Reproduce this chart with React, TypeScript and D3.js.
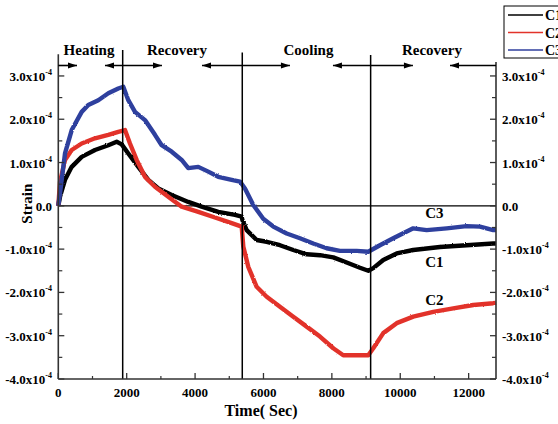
import React, { useEffect, useRef } from 'react';
import * as d3 from 'd3';

// series values: [time (s), strain (x1e-4)]
const c1Points: [number, number][] = [
  [0, 0], [50, 0.21], [196, 0.6], [392, 0.9], [684, 1.13], [1073, 1.29], [1462, 1.4],
  [1708, 1.48], [1854, 1.42], [2047, 1.21], [2339, 0.9], [2632, 0.6], [2924, 0.4],
  [3316, 0.25], [3801, 0.09], [4193, -0.02], [4678, -0.14], [5167, -0.21], [5363, -0.25],
  [5385, -0.33], [5509, -0.56], [5801, -0.79], [6094, -0.83], [6482, -0.91], [6872, -1.02],
  [7263, -1.12], [7652, -1.14], [8041, -1.19], [8433, -1.31], [8822, -1.43], [9065, -1.5],
  [9211, -1.44], [9503, -1.25], [9895, -1.1], [10380, -1.02], [11160, -0.95], [11941, -0.91],
  [12719, -0.87], [12800, -0.87],
];
const c2Points: [number, number][] = [
  [0, 0], [50, 0.55], [196, 1.06], [392, 1.29], [684, 1.44], [1073, 1.56], [1462, 1.64],
  [1754, 1.71], [1950, 1.75], [2096, 1.44], [2292, 1.06], [2535, 0.67], [2827, 0.44],
  [3216, 0.21], [3608, -0.02], [4094, -0.14], [4582, -0.27], [5070, -0.4], [5363, -0.48],
  [5410, -0.94], [5556, -1.41], [5801, -1.87], [6094, -2.1], [6482, -2.33], [6872, -2.56],
  [7263, -2.79], [7652, -3.02], [8041, -3.29], [8333, -3.45], [8725, -3.45], [9065, -3.45],
  [9211, -3.29], [9503, -2.94], [9895, -2.71], [10380, -2.56], [10965, -2.45], [11550, -2.37],
  [12135, -2.29], [12719, -2.25], [12800, -2.24],
];
const c3Points: [number, number][] = [
  [0, 0], [50, 0.29], [196, 1.21], [392, 1.75], [684, 2.17], [877, 2.33], [1170, 2.44],
  [1462, 2.6], [1754, 2.71], [1901, 2.75], [2047, 2.44], [2243, 2.17], [2535, 1.98],
  [2827, 1.64], [3023, 1.4], [3316, 1.25], [3608, 1.06], [3801, 0.87], [4094, 0.9],
  [4386, 0.79], [4678, 0.67], [5070, 0.6], [5313, 0.56], [5459, 0.4], [5702, 0.02],
  [5994, -0.3], [6287, -0.48], [6678, -0.64], [7067, -0.75], [7456, -0.87], [7848, -0.98],
  [8236, -1.04], [8725, -1.04], [9065, -1.06], [9406, -0.91], [9795, -0.75], [10380, -0.52],
  [10772, -0.56], [11357, -0.52], [11941, -0.47], [12331, -0.48], [12719, -0.56], [12800, -0.56],
];

const seriesNames = ['C1', 'C2', 'C3'];
const seriesData = [c1Points, c2Points, c3Points];
const seriesColors = ['#000000', '#e2332a', '#2f3f9e'];
// in-plot curve labels: [time, strain x1e-4]
const curveLabelPos: [number, number][] = [[11000, -1.42], [11000, -2.29], [11000, -0.27]];

const xTicks = [0, 2000, 4000, 6000, 8000, 10000, 12000];
const xMinorTicks = [1000, 3000, 5000, 7000, 9000, 11000];
const yTicks = [-4, -3, -2, -1, 0, 1, 2, 3];
const yMinorTicks = [-3.5, -2.5, -1.5, -0.5, 0.5, 1.5, 2.5];
const yTickLabels = ['-4.0', '-3.0', '-2.0', '-1.0', '0.0', '1.0', '2.0', '3.0'];

const phaseBoundaries = [1883, 5380, 9134];
const phaseNames = ['Heating', 'Recovery', 'Cooling', 'Recovery'];
const phaseCenters = [898, 3471, 7316, 10927];
// arrows: [start, end, head at start, head at end]
const phaseArrows: [number, number, boolean, boolean][] = [
  [0, 547, false, true],
  [1365, 3032, true, true],
  [4202, 6774, true, true],
  [8032, 10371, true, true],
  [11455, 12800, true, false],
];

export default function App() {
  const ref = useRef<SVGSVGElement>(null);

  useEffect(() => {
    const svg = d3.select(ref.current);
    svg.selectAll('*').remove();

    const font = '"Liberation Serif", "Times New Roman", serif';
    const left = 58.3, right = 496, top = 54.3, bottom = 379;

    const x = d3.scaleLinear().domain([0, 12800]).range([left, right]);
    const y = d3.scaleLinear().domain([-4e-4, 3.5e-4]).range([bottom, top]);

    const axisColor = '#333';

    // rough edge to mimic the noisy measured traces
    const defs = svg.append('defs');
    const filt = defs.append('filter').attr('id', 'noisy')
      .attr('x', '-5%').attr('y', '-5%').attr('width', '110%').attr('height', '110%');
    filt.append('feTurbulence').attr('type', 'fractalNoise').attr('baseFrequency', 0.9)
      .attr('numOctaves', 1).attr('seed', 3).attr('result', 'n');
    filt.append('feDisplacementMap').attr('in', 'SourceGraphic').attr('in2', 'n')
      .attr('scale', 2.2).attr('xChannelSelector', 'R').attr('yChannelSelector', 'G');

    const line = d3
      .line<[number, number]>()
      .x((d) => x(d[0]))
      .y((d) => y(d[1] * 1e-4));

    // zero line
    svg.append('line')
      .attr('x1', left).attr('x2', right)
      .attr('y1', y(0)).attr('y2', y(0))
      .attr('stroke', '#000').attr('stroke-width', 1.3);

    seriesData.forEach((pts, i) => {
      svg.append('path')
        .attr('d', line(pts))
        .attr('fill', 'none')
        .attr('stroke', seriesColors[i])
        .attr('stroke-width', 4.4)
        .attr('stroke-linejoin', 'round')
        .attr('filter', 'url(#noisy)');
    });

    // phase boundaries
    phaseBoundaries.forEach((t, i) => {
      svg.append('line')
        .attr('x1', x(t)).attr('x2', x(t))
        .attr('y1', 50 + i * 2.5).attr('y2', bottom)
        .attr('stroke', '#000').attr('stroke-width', 1.5);
    });

    // axes frame
    svg.append('line').attr('x1', left).attr('x2', left).attr('y1', top).attr('y2', bottom)
      .attr('stroke', axisColor).attr('stroke-width', 1.6);
    svg.append('line').attr('x1', right).attr('x2', right).attr('y1', 62).attr('y2', bottom)
      .attr('stroke', axisColor).attr('stroke-width', 1.6);
    svg.append('line').attr('x1', left).attr('x2', right).attr('y1', bottom).attr('y2', bottom)
      .attr('stroke', axisColor).attr('stroke-width', 1.6);

    // x ticks
    xTicks.forEach((t) => {
      svg.append('line').attr('x1', x(t)).attr('x2', x(t)).attr('y1', bottom).attr('y2', bottom - 6)
        .attr('stroke', axisColor).attr('stroke-width', 1.3);
      svg.append('text').attr('x', x(t)).attr('y', 397)
        .attr('text-anchor', 'middle').attr('font-family', font).attr('font-weight', 'bold')
        .attr('font-size', 13).text(t);
    });
    xMinorTicks.forEach((t) => {
      svg.append('line').attr('x1', x(t)).attr('x2', x(t)).attr('y1', bottom).attr('y2', bottom - 3)
        .attr('stroke', axisColor).attr('stroke-width', 1.2);
    });

    // y ticks both sides
    yTicks.forEach((v, i) => {
      const yy = y(v * 1e-4);
      [[left, 6], [right, -6]].forEach(([ax, len]) => {
        svg.append('line').attr('x1', ax).attr('x2', ax + len).attr('y1', yy).attr('y2', yy)
          .attr('stroke', axisColor).attr('stroke-width', 1.3);
      });
      [[52, 'end'], [502, 'start']].forEach(([lx, anchor]) => {
        const txt = svg.append('text').attr('x', lx).attr('y', yy + 5)
          .attr('text-anchor', anchor).attr('font-family', font).attr('font-weight', 'bold')
          .attr('font-size', 13);
        if (v === 0) {
          txt.text(yTickLabels[i]);
        } else {
          txt.append('tspan').text(yTickLabels[i] + 'x10');
          txt.append('tspan').attr('dy', -6).attr('font-size', 8).text('-4');
        }
      });
    });
    yMinorTicks.forEach((v) => {
      const yy = y(v * 1e-4);
      [[left, 4], [right, -4]].forEach(([ax, len]) => {
        svg.append('line').attr('x1', ax).attr('x2', ax + len).attr('y1', yy).attr('y2', yy)
          .attr('stroke', axisColor).attr('stroke-width', 1.2);
      });
    });

    // axis titles
    svg.append('text').attr('transform', `translate(32,${(top + bottom) / 2 - 13}) rotate(-90)`)
      .attr('text-anchor', 'middle').attr('font-family', font).attr('font-weight', 'bold')
      .attr('font-size', 15).text('Strain');
    svg.append('text').attr('x', 261).attr('y', 416)
      .attr('text-anchor', 'middle').attr('font-family', font).attr('font-weight', 'bold')
      .attr('font-size', 16).text('Time( Sec)');

    // phase labels and arrows
    phaseNames.forEach((name, i) => {
      svg.append('text').attr('x', x(phaseCenters[i])).attr('y', 55)
        .attr('text-anchor', 'middle').attr('font-family', font).attr('font-weight', 'bold')
        .attr('font-size', 15).text(name);
    });
    const ay = 65.5;
    phaseArrows.forEach(([t0, t1, h0, h1]) => {
      const x0 = x(t0), x1 = x(t1);
      svg.append('line').attr('x1', x0).attr('x2', x1).attr('y1', ay).attr('y2', ay)
        .attr('stroke', '#000').attr('stroke-width', 1.6);
      if (h0) {
        svg.append('path').attr('d', `M${x0},${ay}L${x0 + 9},${ay - 3}L${x0 + 9},${ay + 3}Z`).attr('fill', '#000');
      }
      if (h1) {
        svg.append('path').attr('d', `M${x1},${ay}L${x1 - 9},${ay - 3}L${x1 - 9},${ay + 3}Z`).attr('fill', '#000');
      }
    });

    // curve labels
    seriesNames.forEach((n, i) => {
      svg.append('text').attr('x', x(curveLabelPos[i][0])).attr('y', y(curveLabelPos[i][1] * 1e-4))
        .attr('text-anchor', 'middle').attr('font-family', font).attr('font-weight', 'bold')
        .attr('font-size', 15).text(n);
    });

    // legend (runs past the right edge, as in the original)
    const lg = svg.append('g').attr('transform', 'translate(504,6)');
    lg.append('rect').attr('x', 0).attr('y', 0).attr('width', 80).attr('height', 52)
      .attr('fill', '#fff').attr('stroke', '#000').attr('stroke-width', 1);
    seriesNames.forEach((n, i) => {
      const ly = 9 + i * 17.5;
      lg.append('line').attr('x1', 4).attr('x2', 39).attr('y1', ly).attr('y2', ly)
        .attr('stroke', seriesColors[i]).attr('stroke-width', 1.5);
      lg.append('text').attr('x', 41).attr('y', ly + 5).attr('font-family', font)
        .attr('font-weight', 'bold').attr('font-size', 14).text(n);
    });
  }, []);

  return (
    <svg
      ref={ref}
      width={558}
      height={424}
      style={{ position: 'absolute', left: 0, top: 0, background: '#fff' }}
    />
  );
}
